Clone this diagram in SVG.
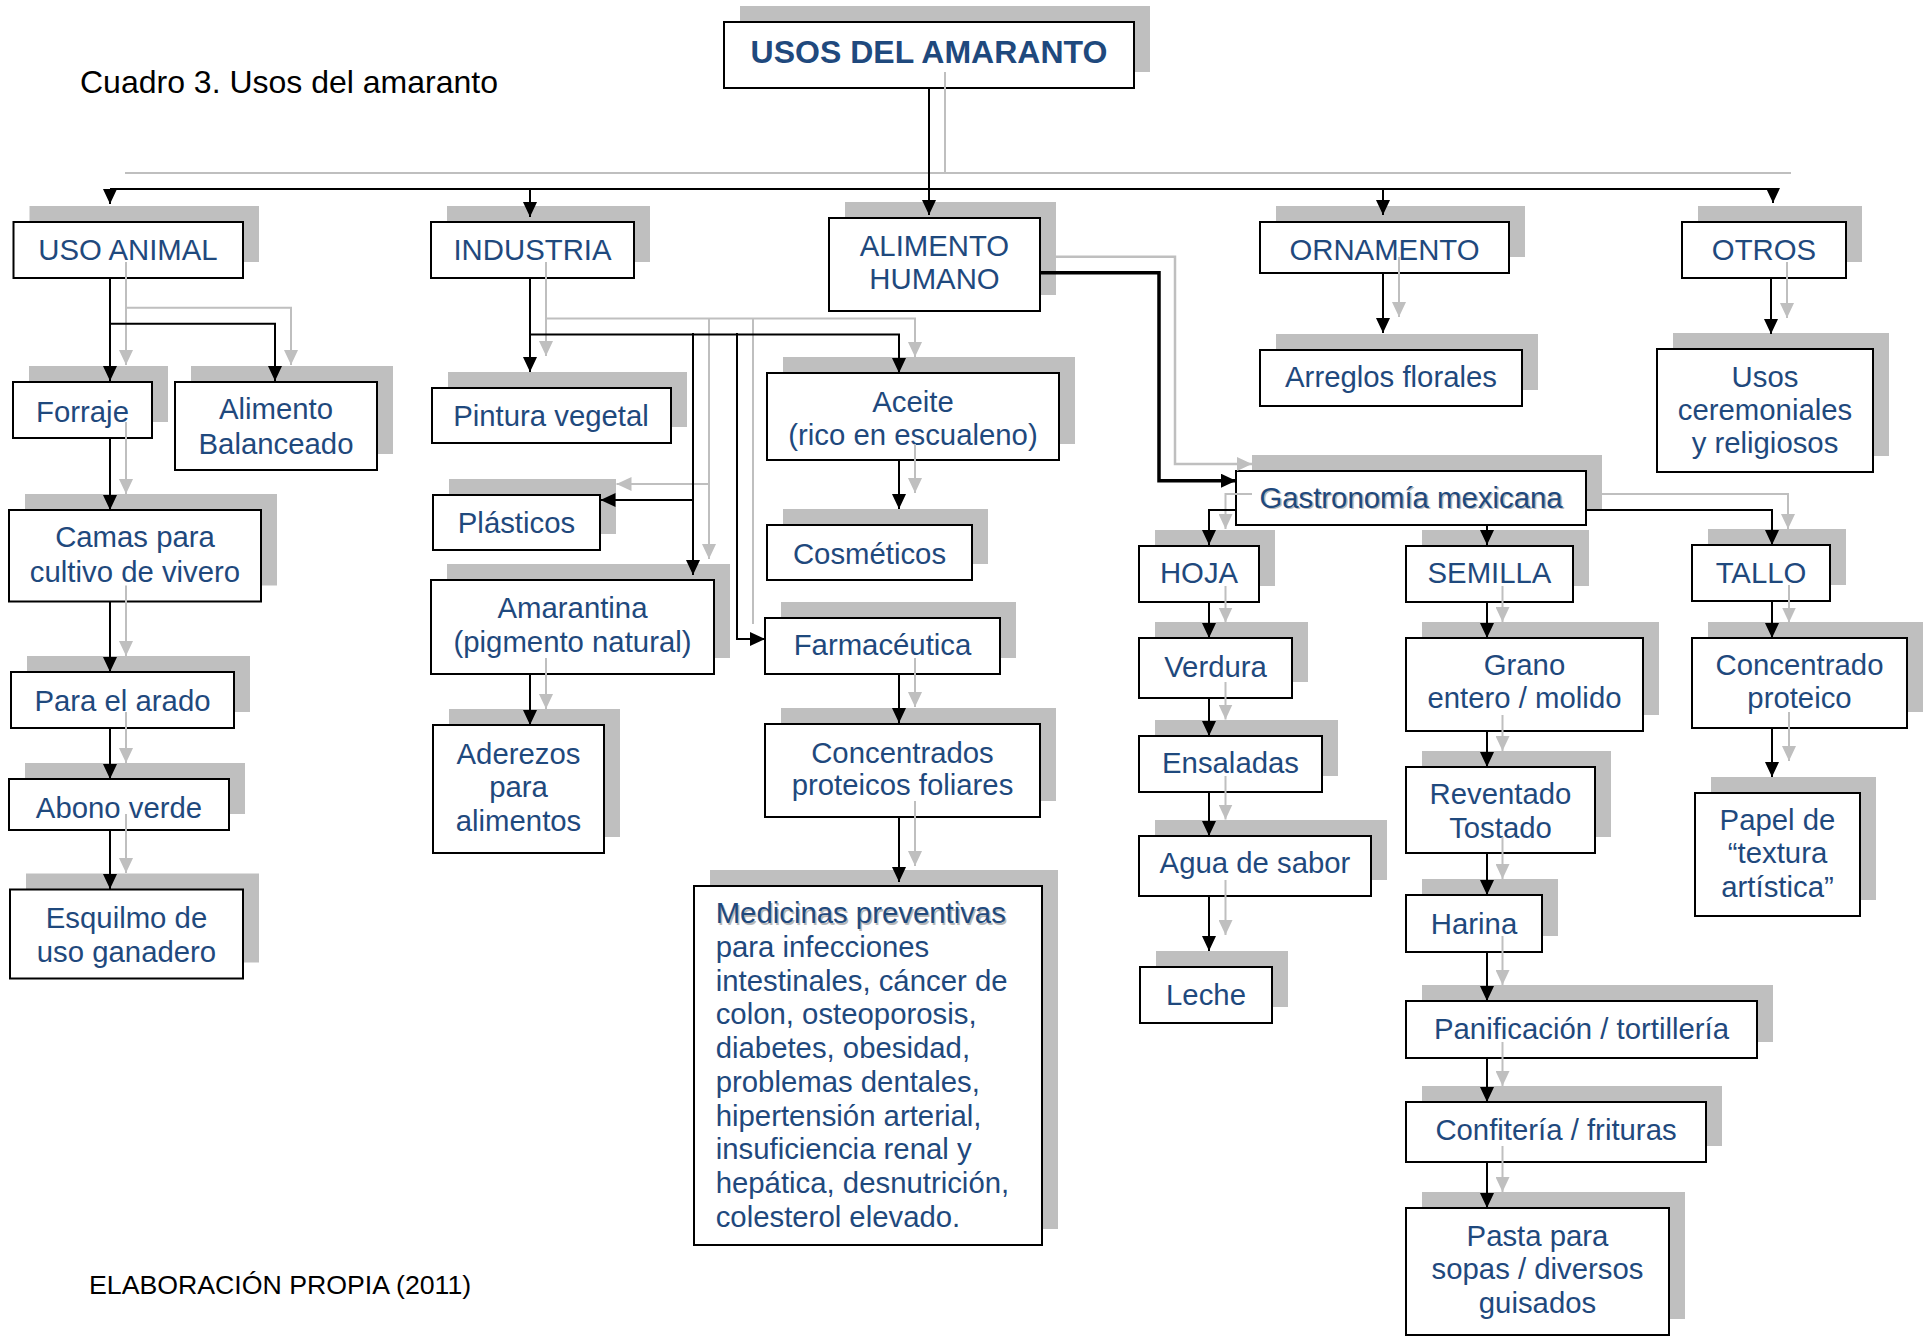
<svg xmlns="http://www.w3.org/2000/svg" width="1927" height="1336" viewBox="0 0 1927 1336">
<style>
.sh{fill:#bfbfbf}
.bx{fill:#fff;stroke:#000;stroke-width:2}
.t{font-family:"Liberation Sans",Arial,sans-serif;font-size:29.33px;fill:#1f497d;text-anchor:middle}
.tl{text-anchor:start}
.ts{fill:#b8b8b8}
.k{fill:none;stroke:#000;stroke-width:2}
.kb{fill:none;stroke:#000;stroke-width:3.5}
.g{fill:none;stroke:#bfbfbf;stroke-width:2}
.cap{font-family:"Liberation Sans",Arial,sans-serif;fill:#000}
</style>
<defs>
<marker id="ak" viewBox="0 0 15 14" refX="15" refY="7" markerWidth="15" markerHeight="14" orient="auto" markerUnits="userSpaceOnUse"><path d="M0,0 L15,7 L0,14 Z" fill="#000"/></marker>
<marker id="ag" viewBox="0 0 15 14" refX="15" refY="7" markerWidth="15" markerHeight="14" orient="auto" markerUnits="userSpaceOnUse"><path d="M0,0 L15,7 L0,14 Z" fill="#bfbfbf"/></marker>
</defs>
<rect width="1927" height="1336" fill="#fff"/>

<text class="cap" x="80" y="93" font-size="32">Cuadro 3. Usos del amaranto</text>
<text class="cap" x="89" y="1294" font-size="26.7">ELABORACIÓN PROPIA (2011)</text>

<g id="nodes">
<g id="n-usos"><rect class="sh" x="740" y="6" width="410" height="66"/><rect class="bx" x="724" y="22" width="410" height="66"/><text class="t" x="929" y="63" style="font-weight:bold;font-size:32px">USOS DEL AMARANTO</text></g>
<g id="n-uso-animal"><rect class="sh" x="29.5" y="206" width="229.5" height="56"/><rect class="bx" x="13.5" y="222" width="229.5" height="56"/><text class="t" x="128" y="260">USO ANIMAL</text></g>
<g id="n-industria"><rect class="sh" x="447" y="206" width="203" height="56"/><rect class="bx" x="431" y="222" width="203" height="56"/><text class="t" x="532.5" y="260">INDUSTRIA</text></g>
<g id="n-alimento-humano"><rect class="sh" x="845" y="202" width="211" height="93"/><rect class="bx" x="829" y="218" width="211" height="93"/><text class="t"><tspan x="934.5" y="256">ALIMENTO</tspan><tspan x="934.5" y="289">HUMANO</tspan></text></g>
<g id="n-ornamento"><rect class="sh" x="1276" y="206" width="249" height="51"/><rect class="bx" x="1260" y="222" width="249" height="51"/><text class="t" x="1384.5" y="260">ORNAMENTO</text></g>
<g id="n-otros"><rect class="sh" x="1698" y="206" width="164" height="56"/><rect class="bx" x="1682" y="222" width="164" height="56"/><text class="t" x="1764" y="260">OTROS</text></g>

<g id="n-forraje"><rect class="sh" x="29" y="366" width="139" height="56"/><rect class="bx" x="13" y="382" width="139" height="56"/><text class="t" x="82.5" y="421.5">Forraje</text></g>
<g id="n-alimento-balanceado"><rect class="sh" x="191" y="366" width="202" height="88"/><rect class="bx" x="175" y="382" width="202" height="88"/><text class="t"><tspan x="276" y="419">Alimento</tspan><tspan x="276" y="453.5">Balanceado</tspan></text></g>
<g id="n-camas"><rect class="sh" x="25" y="494" width="252" height="91.5"/><rect class="bx" x="9" y="510" width="252" height="91.5"/><text class="t"><tspan x="135" y="547">Camas para</tspan><tspan x="135" y="581.5">cultivo de vivero</tspan></text></g>
<g id="n-para-el-arado"><rect class="sh" x="27" y="656" width="223" height="56"/><rect class="bx" x="11" y="672" width="223" height="56"/><text class="t" x="122.5" y="710.5">Para el arado</text></g>
<g id="n-abono-verde"><rect class="sh" x="25" y="763" width="220" height="51"/><rect class="bx" x="9" y="779" width="220" height="51"/><text class="t" x="119" y="817.5">Abono verde</text></g>
<g id="n-esquilmo"><rect class="sh" x="26" y="873.5" width="233" height="89"/><rect class="bx" x="10" y="889.5" width="233" height="89"/><text class="t"><tspan x="126.5" y="927.5">Esquilmo de</tspan><tspan x="126.5" y="961.5">uso ganadero</tspan></text></g>

<g id="n-pintura"><rect class="sh" x="448" y="372" width="239" height="55"/><rect class="bx" x="432" y="388" width="239" height="55"/><text class="t" x="551" y="425.7">Pintura vegetal</text></g>
<g id="n-plasticos"><rect class="sh" x="449" y="479" width="167" height="55"/><rect class="bx" x="433" y="495" width="167" height="55"/><text class="t" x="516.5" y="533">Plásticos</text></g>
<g id="n-amarantina"><rect class="sh" x="447" y="564" width="283" height="94"/><rect class="bx" x="431" y="580" width="283" height="94"/><text class="t"><tspan x="572.5" y="618">Amarantina</tspan><tspan x="572.5" y="652">(pigmento natural)</tspan></text></g>
<g id="n-aderezos"><rect class="sh" x="449" y="709" width="171" height="128"/><rect class="bx" x="433" y="725" width="171" height="128"/><text class="t"><tspan x="518.5" y="763.5">Aderezos</tspan><tspan x="518.5" y="797">para</tspan><tspan x="518.5" y="830.5">alimentos</tspan></text></g>
<g id="n-aceite"><rect class="sh" x="783" y="357" width="292" height="87"/><rect class="bx" x="767" y="373" width="292" height="87"/><text class="t"><tspan x="913" y="411.8">Aceite</tspan><tspan x="913" y="444.6">(rico en escualeno)</tspan></text></g>
<g id="n-cosmeticos"><rect class="sh" x="783" y="509" width="205" height="55"/><rect class="bx" x="767" y="525" width="205" height="55"/><text class="t" x="869.5" y="563.6">Cosméticos</text></g>
<g id="n-farmaceutica"><rect class="sh" x="781" y="602" width="235" height="56"/><rect class="bx" x="765" y="618" width="235" height="56"/><text class="t" x="882.5" y="655.4">Farmacéutica</text></g>
<g id="n-concentrados-foliares"><rect class="sh" x="781" y="708" width="275" height="93"/><rect class="bx" x="765" y="724" width="275" height="93"/><text class="t"><tspan x="902.5" y="762.5">Concentrados</tspan><tspan x="902.5" y="795">proteicos foliares</tspan></text></g>
<g id="n-medicinas"><rect class="sh" x="710" y="870" width="348" height="359"/><rect class="bx" x="694" y="886" width="348" height="359"/>
<text class="t tl ts" x="717.2" y="924.8">Medicinas preventivas</text>
<text class="t tl"><tspan x="715.7" y="923.3">Medicinas preventivas</tspan><tspan x="715.7" y="957">para infecciones</tspan><tspan x="715.7" y="990.7">intestinales, cáncer de</tspan><tspan x="715.7" y="1024.4">colon, osteoporosis,</tspan><tspan x="715.7" y="1058.1">diabetes, obesidad,</tspan><tspan x="715.7" y="1091.8">problemas dentales,</tspan><tspan x="715.7" y="1125.5">hipertensión arterial,</tspan><tspan x="715.7" y="1159.2">insuficiencia renal y</tspan><tspan x="715.7" y="1192.9">hepática, desnutrición,</tspan><tspan x="715.7" y="1226.6">colesterol elevado.</tspan></text></g>

<g id="n-arreglos"><rect class="sh" x="1276" y="334" width="262" height="56"/><rect class="bx" x="1260" y="350" width="262" height="56"/><text class="t" x="1391" y="387">Arreglos florales</text></g>
<g id="n-usos-ceremoniales"><rect class="sh" x="1673" y="333" width="216" height="123"/><rect class="bx" x="1657" y="349" width="216" height="123"/><text class="t"><tspan x="1765" y="386.5">Usos</tspan><tspan x="1765" y="419.5">ceremoniales</tspan><tspan x="1765" y="452.5">y religiosos</tspan></text></g>

<g id="n-gastronomia"><rect class="sh" x="1252" y="455" width="350" height="54"/><rect class="bx" x="1236" y="471" width="350" height="54"/><text class="t ts" x="1412.5" y="509">Gastronomía mexicana</text><text class="t" x="1411" y="507.5">Gastronomía mexicana</text></g>
<g id="n-hoja"><rect class="sh" x="1155" y="530" width="120" height="56"/><rect class="bx" x="1139" y="546" width="120" height="56"/><text class="t" x="1199" y="583">HOJA</text></g>
<g id="n-semilla"><rect class="sh" x="1422" y="530" width="167" height="56"/><rect class="bx" x="1406" y="546" width="167" height="56"/><text class="t" x="1489.5" y="583">SEMILLA</text></g>
<g id="n-tallo"><rect class="sh" x="1708" y="529" width="138" height="56"/><rect class="bx" x="1692" y="545" width="138" height="56"/><text class="t" x="1761" y="583">TALLO</text></g>
<g id="n-verdura"><rect class="sh" x="1155" y="622" width="153" height="60"/><rect class="bx" x="1139" y="638" width="153" height="60"/><text class="t" x="1215.5" y="676.7">Verdura</text></g>
<g id="n-ensaladas"><rect class="sh" x="1155" y="720" width="183" height="56"/><rect class="bx" x="1139" y="736" width="183" height="56"/><text class="t" x="1230.5" y="773.3">Ensaladas</text></g>
<g id="n-agua"><rect class="sh" x="1155" y="820" width="232" height="60"/><rect class="bx" x="1139" y="836" width="232" height="60"/><text class="t" x="1255" y="873">Agua de sabor</text></g>
<g id="n-leche"><rect class="sh" x="1156" y="951" width="132" height="56"/><rect class="bx" x="1140" y="967" width="132" height="56"/><text class="t" x="1206" y="1005">Leche</text></g>
<g id="n-grano"><rect class="sh" x="1422" y="622" width="237" height="93"/><rect class="bx" x="1406" y="638" width="237" height="93"/><text class="t"><tspan x="1524.5" y="675">Grano</tspan><tspan x="1524.5" y="708.3">entero / molido</tspan></text></g>
<g id="n-reventado"><rect class="sh" x="1422" y="751" width="189" height="86"/><rect class="bx" x="1406" y="767" width="189" height="86"/><text class="t"><tspan x="1500.5" y="804.3">Reventado</tspan><tspan x="1500.5" y="838.3">Tostado</tspan></text></g>
<g id="n-harina"><rect class="sh" x="1422" y="879" width="136" height="57"/><rect class="bx" x="1406" y="895" width="136" height="57"/><text class="t" x="1474" y="934">Harina</text></g>
<g id="n-panificacion"><rect class="sh" x="1422" y="985" width="351" height="57"/><rect class="bx" x="1406" y="1001" width="351" height="57"/><text class="t" x="1581.5" y="1039.3">Panificación / tortillería</text></g>
<g id="n-confiteria"><rect class="sh" x="1422" y="1086" width="300" height="60"/><rect class="bx" x="1406" y="1102" width="300" height="60"/><text class="t" x="1556" y="1140">Confitería / frituras</text></g>
<g id="n-pasta"><rect class="sh" x="1422" y="1192" width="263" height="127"/><rect class="bx" x="1406" y="1208" width="263" height="127"/><text class="t"><tspan x="1537.5" y="1246">Pasta para</tspan><tspan x="1537.5" y="1279.3">sopas / diversos</tspan><tspan x="1537.5" y="1312.7">guisados</tspan></text></g>
<g id="n-concentrado-proteico"><rect class="sh" x="1708" y="622" width="215" height="90"/><rect class="bx" x="1692" y="638" width="215" height="90"/><text class="t"><tspan x="1799.5" y="675">Concentrado</tspan><tspan x="1799.5" y="708.3">proteico</tspan></text></g>
<g id="n-papel"><rect class="sh" x="1711" y="777" width="165" height="123"/><rect class="bx" x="1695" y="793" width="165" height="123"/><text class="t"><tspan x="1777.5" y="830">Papel de</tspan><tspan x="1777.5" y="863.3">“textura</tspan><tspan x="1777.5" y="896.7">artística”</tspan></text></g>
</g>

<g id="connectors">
<g id="shadow-connectors">
<path class="g" d="M945,72 V173"/>
<path class="g" d="M125,173 H1791"/>
<path class="g" marker-end="url(#ag)" d="M126,262 V365"/>
<path class="g" marker-end="url(#ag)" d="M126,307.7 H291 V365"/>
<path class="g" marker-end="url(#ag)" d="M126,422 V494"/>
<path class="g" marker-end="url(#ag)" d="M126,585.5 V656"/>
<path class="g" marker-end="url(#ag)" d="M126,712 V763"/>
<path class="g" marker-end="url(#ag)" d="M126,814 V873"/>
<path class="g" marker-end="url(#ag)" d="M546,262 V356"/>
<path class="g" marker-end="url(#ag)" d="M546,318.6 H915 V357"/>
<path class="g" marker-end="url(#ag)" d="M709,318.6 V559"/>
<path class="g" marker-end="url(#ag)" d="M709,484 H616.5"/>
<path class="g" d="M753,318.6 V624"/>
<path class="g" marker-end="url(#ag)" d="M915,444 V493"/>
<path class="g" marker-end="url(#ag)" d="M546,658 V709"/>
<path class="g" marker-end="url(#ag)" d="M915,658 V707"/>
<path class="g" marker-end="url(#ag)" d="M915,801 V866"/>
<path class="g" style="stroke-width:2.5" marker-end="url(#ag)" d="M1056,256.7 H1175 V464 H1252"/>
<path class="g" marker-end="url(#ag)" d="M1399,257 V317"/>
<path class="g" marker-end="url(#ag)" d="M1787,262 V318"/>
<path class="g" marker-end="url(#ag)" d="M1252,494 H1225.5 V529"/>
<path class="g" marker-end="url(#ag)" d="M1602,494 H1788 V529"/>
<path class="g" marker-end="url(#ag)" d="M1225.5,586 V622.5"/>
<path class="g" marker-end="url(#ag)" d="M1225.5,682 V719.5"/>
<path class="g" marker-end="url(#ag)" d="M1225.5,776 V819.5"/>
<path class="g" marker-end="url(#ag)" d="M1225.5,880 V935"/>
<path class="g" marker-end="url(#ag)" d="M1502.5,586 V622"/>
<path class="g" marker-end="url(#ag)" d="M1502.5,715 V751"/>
<path class="g" marker-end="url(#ag)" d="M1502.5,837 V879"/>
<path class="g" marker-end="url(#ag)" d="M1502.5,936 V985"/>
<path class="g" marker-end="url(#ag)" d="M1502.5,1042 V1086"/>
<path class="g" marker-end="url(#ag)" d="M1502.5,1146 V1192"/>
<path class="g" marker-end="url(#ag)" d="M1789,585 V622.5"/>
<path class="g" marker-end="url(#ag)" d="M1789,712 V761"/>
</g>
<g id="main-connectors">
<path class="k" marker-end="url(#ak)" d="M929,88 V215"/>
<path class="k" d="M110,189 H1773"/>
<path class="k" marker-end="url(#ak)" d="M110,189 V204"/>
<path class="k" marker-end="url(#ak)" d="M530,189 V217"/>
<path class="k" marker-end="url(#ak)" d="M1383,189 V215"/>
<path class="k" marker-end="url(#ak)" d="M1773,189 V203"/>
<path class="k" marker-end="url(#ak)" d="M110,278 V381"/>
<path class="k" marker-end="url(#ak)" d="M110,323.7 H275 V381"/>
<path class="k" marker-end="url(#ak)" d="M110,438 V510"/>
<path class="k" marker-end="url(#ak)" d="M110,601.5 V672"/>
<path class="k" marker-end="url(#ak)" d="M110,728 V779"/>
<path class="k" marker-end="url(#ak)" d="M110,830 V889"/>
<path class="k" marker-end="url(#ak)" d="M530,278 V372"/>
<path class="k" marker-end="url(#ak)" d="M530,334.6 H899 V373"/>
<path class="k" marker-end="url(#ak)" d="M693,333 V575"/>
<path class="k" marker-end="url(#ak)" d="M693,500 H600.5"/>
<path class="k" marker-end="url(#ak)" d="M737,333 V639 H765"/>
<path class="k" marker-end="url(#ak)" d="M899,460 V509"/>
<path class="k" marker-end="url(#ak)" d="M530,674 V725"/>
<path class="k" marker-end="url(#ak)" d="M899,674 V723"/>
<path class="k" marker-end="url(#ak)" d="M899,817 V882"/>
<path class="kb" marker-end="url(#ak)" d="M1040,272.7 H1159 V480.7 H1236"/>
<path class="k" marker-end="url(#ak)" d="M1383,273 V333"/>
<path class="k" marker-end="url(#ak)" d="M1771,278 V334"/>
<path class="k" marker-end="url(#ak)" d="M1236,510 H1209 V545"/>
<path class="k" marker-end="url(#ak)" d="M1487,525 V545"/>
<path class="k" marker-end="url(#ak)" d="M1586,510 H1772 V545"/>
<path class="k" marker-end="url(#ak)" d="M1209,602 V638"/>
<path class="k" marker-end="url(#ak)" d="M1209,698 V736"/>
<path class="k" marker-end="url(#ak)" d="M1209,792 V836"/>
<path class="k" marker-end="url(#ak)" d="M1209,896 V951"/>
<path class="k" marker-end="url(#ak)" d="M1487,602 V638"/>
<path class="k" marker-end="url(#ak)" d="M1487,731 V767"/>
<path class="k" marker-end="url(#ak)" d="M1487,853 V895"/>
<path class="k" marker-end="url(#ak)" d="M1487,952 V1001"/>
<path class="k" marker-end="url(#ak)" d="M1487,1058 V1102"/>
<path class="k" marker-end="url(#ak)" d="M1487,1162 V1208"/>
<path class="k" marker-end="url(#ak)" d="M1772,601 V638"/>
<path class="k" marker-end="url(#ak)" d="M1772,728 V777"/>
</g>
</g>
</svg>
